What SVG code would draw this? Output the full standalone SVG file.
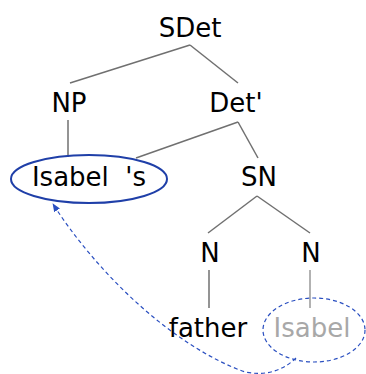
<svg xmlns="http://www.w3.org/2000/svg" width="366" height="374" viewBox="0 0 366 374">
<defs>
<style>
.t{font-family:"DejaVu Sans","Liberation Sans",sans-serif;font-size:26px;fill:#000;text-anchor:middle}
.g{fill:#a8a8a8}
.e{stroke:#707070;stroke-width:1.5;fill:none}
.d{stroke:#2a4fc0;stroke-width:1.2;fill:none;stroke-dasharray:4 3}
</style>
<marker id="ah" viewBox="0 0 10 10" refX="9" refY="5" markerWidth="7" markerHeight="7" orient="auto-start-reverse">
<path d="M0,1 L10,5 L0,9 z" fill="#2a4fc0"/>
</marker>
</defs>
<rect width="366" height="374" fill="#fff"/>
<g id="connectors">
<line class="e" x1="190" y1="45" x2="70" y2="83"/>
<line class="e" x1="190" y1="45" x2="238" y2="83"/>
<line class="e" x1="68" y1="120" x2="68" y2="157"/>
<line class="e" x1="238" y1="122" x2="136" y2="158"/>
<line class="e" x1="238" y1="122" x2="258" y2="158"/>
<line class="e" x1="257" y1="196" x2="208" y2="233"/>
<line class="e" x1="257" y1="196" x2="310" y2="233"/>
<line class="e" x1="209" y1="270" x2="209" y2="308"/>
<line class="e" x1="310" y1="270" x2="310" y2="308" style="stroke:#999"/>
<path class="d" d="M296,358 Q275,378 245,372 C170,345 95,270 53,204" marker-end="url(#ah)"/>
</g>
<g id="SDet"><text class="t" x="190" y="37">SDet</text></g>
<g id="NP"><text class="t" x="69" y="112">NP</text></g>
<g id="DetP"><text class="t" x="236" y="112">Det'</text></g>
<g id="IsabelS">
<ellipse cx="89" cy="179" rx="78" ry="24" fill="none" stroke="#1f3fa8" stroke-width="2"/>
<text class="t" x="89" y="186" xml:space="preserve">Isabel  's</text>
</g>
<g id="SN"><text class="t" x="259" y="186">SN</text></g>
<g id="N1"><text class="t" x="210" y="262">N</text></g>
<g id="N2"><text class="t" x="311" y="262">N</text></g>
<g id="father"><text class="t" x="208" y="337">father</text></g>
<g id="IsabelTrace">
<ellipse class="d" cx="314" cy="330" rx="51" ry="32"/>
<text class="t g" x="312" y="337">Isabel</text>
</g>
</svg>
